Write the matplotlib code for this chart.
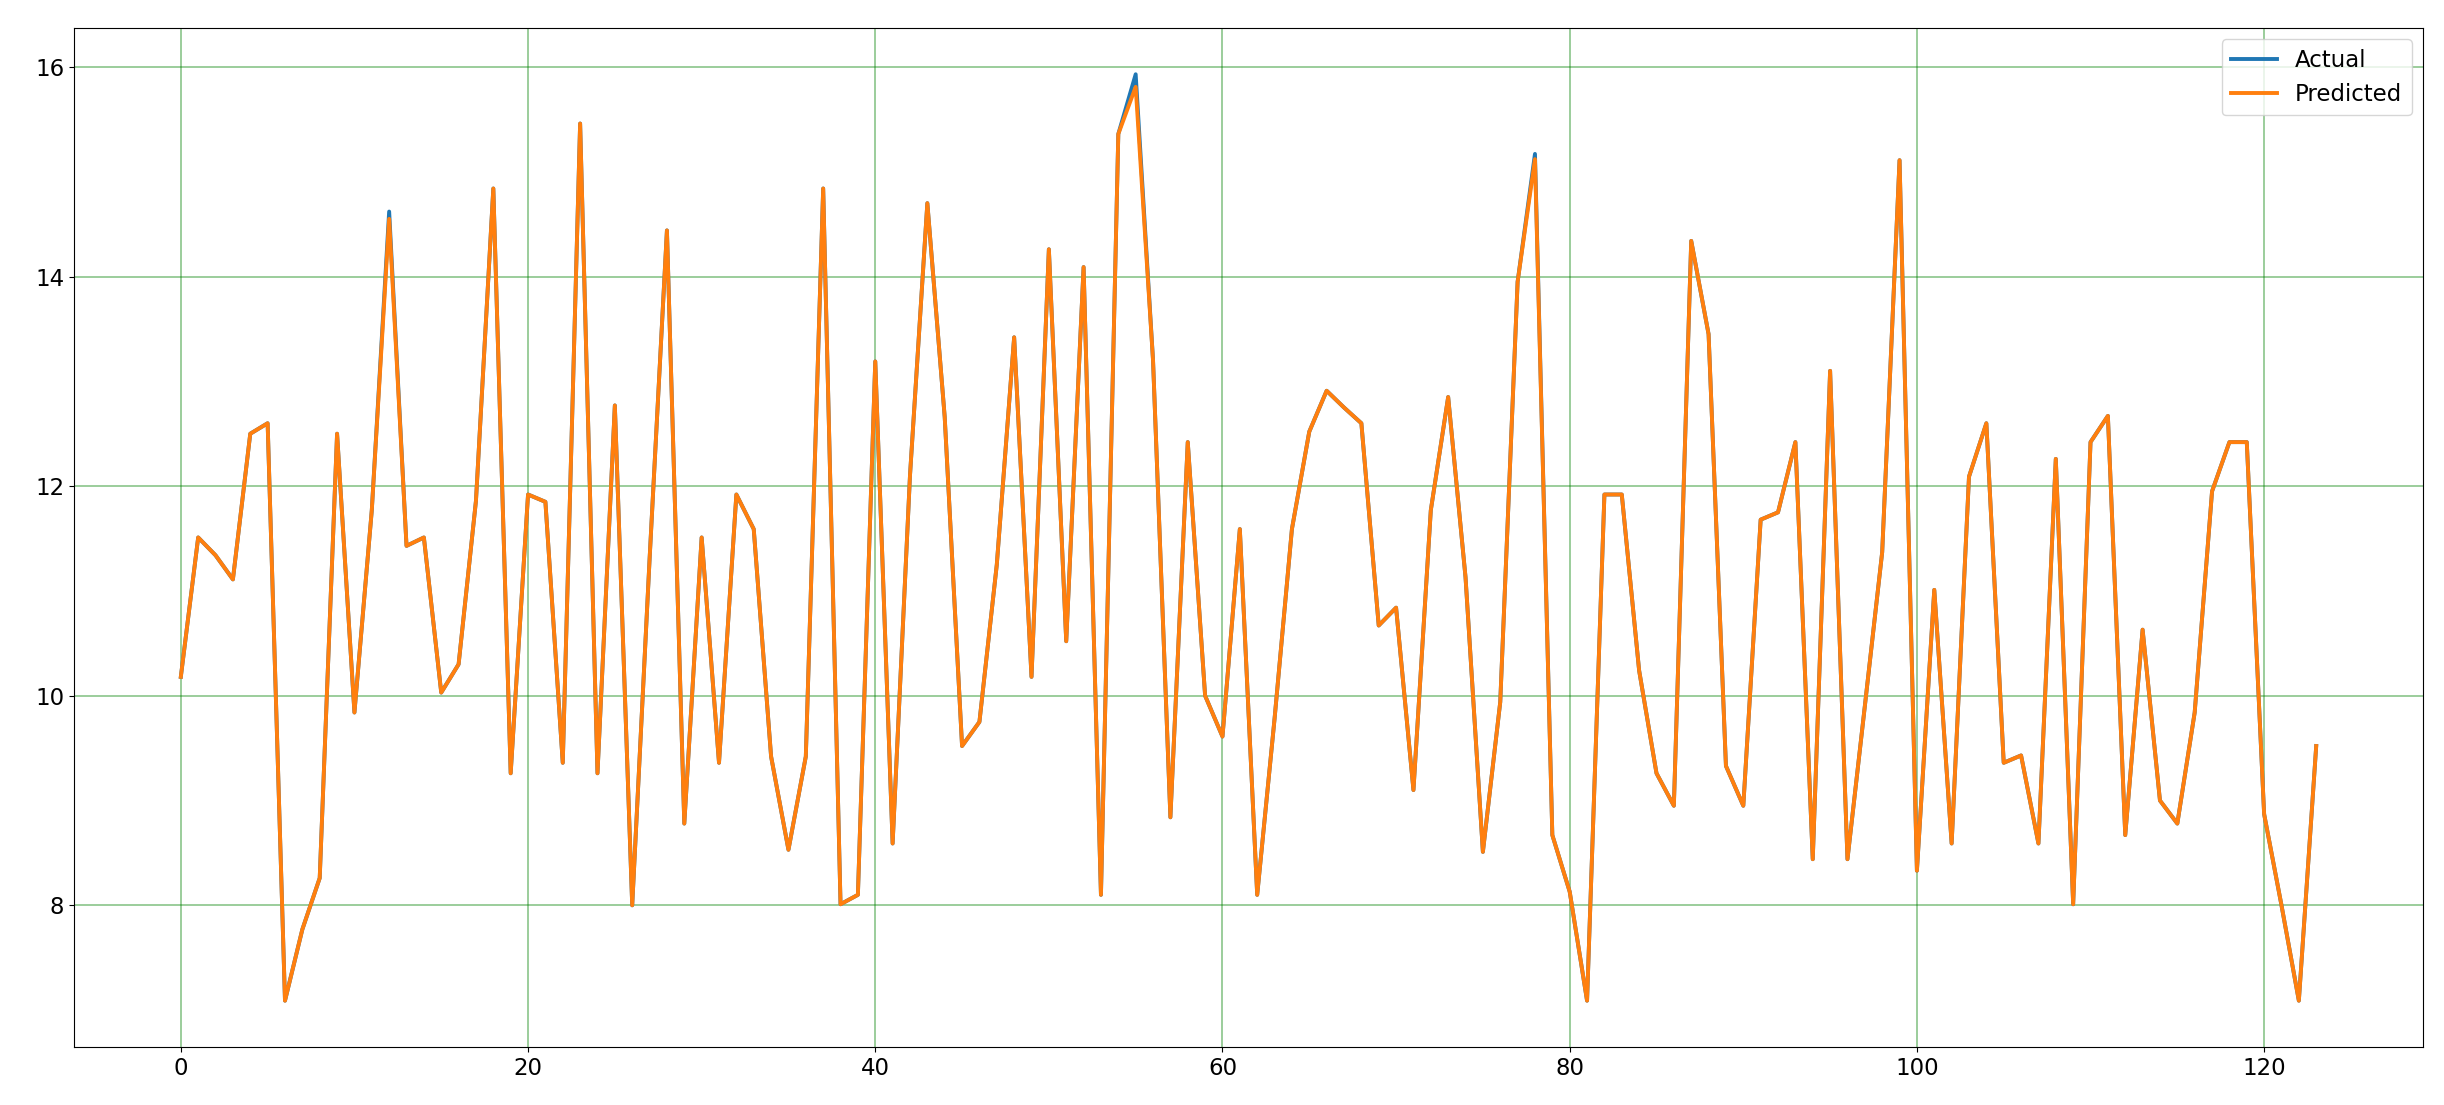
import matplotlib.pyplot as plt
import numpy as np

# valores (indices 0..123)
actual = [10.18, 11.51, 11.34, 11.11, 12.50, 12.60, 7.09, 7.77, 8.26, 12.50,
          9.84, 11.77, 14.62, 11.43, 11.51, 10.03, 10.30, 11.86, 14.84, 9.26,
          11.92, 11.85, 9.36, 15.46, 9.26, 12.77, 8.00, 11.30, 14.44, 8.78,
          11.51, 9.36, 11.92, 11.59, 9.42, 8.53, 9.42, 14.84, 8.01, 8.10,
          13.19, 8.59, 12.10, 14.70, 12.66, 9.52, 9.75, 11.25, 13.42, 10.18,
          14.26, 10.52, 14.09, 8.10, 15.36, 15.93, 13.20, 8.84, 12.42, 10.00,
          9.61, 11.59, 8.10, 9.78, 11.59, 12.52, 12.91, 12.75, 12.60, 10.67,
          10.84, 9.10, 11.77, 12.85, 11.13, 8.51, 9.94, 13.95, 15.17, 8.67,
          8.13, 7.09, 11.92, 11.92, 10.24, 9.26, 8.95, 14.34, 13.45, 9.33,
          8.95, 11.68, 11.75, 12.42, 8.44, 13.10, 8.44, 9.90, 11.37, 15.11,
          8.33, 11.01, 8.59, 12.09, 12.60, 9.36, 9.43, 8.59, 12.26, 8.01,
          12.42, 12.67, 8.67, 10.63, 9.00, 8.78, 9.84, 11.95, 12.42, 12.42,
          8.87, 8.00, 7.09, 9.52]

predicted = list(actual)
predicted[12] = 14.55
predicted[55] = 15.81
predicted[78] = 15.12

x = np.arange(len(actual))

plt.figure(figsize=(24.44, 11.05), dpi=100)
plt.plot(x, actual, label='Actual', linewidth=2.8)
plt.plot(x, predicted, label='Predicted', linewidth=2.8)
plt.grid(color='g', alpha=0.5, linewidth=1.1)
plt.legend(loc='upper right', fontsize=16.5)
plt.xticks(fontsize=16.5)
plt.yticks(fontsize=16.5)
plt.subplots_adjust(left=0.0303, right=0.9914, top=0.9747, bottom=0.0525)
plt.savefig('out.png')
